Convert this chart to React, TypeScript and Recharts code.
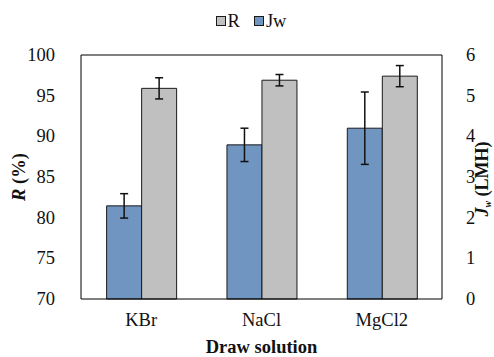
import { BarChart, Bar, XAxis, YAxis, ErrorBar, ReferenceLine } from 'recharts';

const solutions = ['KBr', 'NaCl', 'MgCl2'];
const jwValues = [2.29, 3.79, 4.2];
const jwErrors = [0.3, 0.41, 0.89];
const rValues = [95.9, 96.9, 97.4];
const rErrors = [1.3, 0.7, 1.3];
const leftTicks = [70, 75, 80, 85, 90, 95, 100];
const rightTicks = [0, 1, 2, 3, 4, 5, 6];

const data = solutions.map((name, i) => ({
  name,
  jw: jwValues[i],
  jwErr: jwErrors[i],
  r: rValues[i],
  rErr: rErrors[i],
}));

const FONT = 'Liberation Serif, Times New Roman, serif';
const BLUE = '#7095c1';
const GRAY = '#c0c0c0';
const EDGE = '#1a1a1a';
const TICK_SIZE = 18.5;

// tick renderers so the serif face is applied for sure
const XTick = ({ x, y, payload }: any) => (
  <text x={x} y={y + 19} textAnchor="middle" fontFamily={FONT} fontSize={TICK_SIZE} fill="#111">
    {payload.value}
  </text>
);
const LeftTick = ({ x, y, payload }: any) => (
  <text x={x - 18} y={y + 6} textAnchor="end" fontFamily={FONT} fontSize={TICK_SIZE} fill="#111">
    {payload.value}
  </text>
);
const RightTick = ({ x, y, payload }: any) => (
  <text x={x + 16} y={y + 6} textAnchor="start" fontFamily={FONT} fontSize={TICK_SIZE} fill="#111">
    {payload.value}
  </text>
);

const LeftLabel = () => (
  <text
    transform="translate(25,177) rotate(-90)"
    textAnchor="middle"
    fontFamily={FONT}
    fontSize={18.5}
    fontWeight="bold"
    fill="#111"
  >
    <tspan fontStyle="italic">R</tspan>
    <tspan> (%)</tspan>
  </text>
);

const RightLabel = () => (
  <text
    transform="translate(488,179) rotate(-90)"
    textAnchor="middle"
    fontFamily={FONT}
    fontSize={18}
    fontWeight="bold"
    fill="#111"
  >
    <tspan fontStyle="italic">J</tspan>
    <tspan fontStyle="italic" fontSize={10} dy={2.5}>w</tspan>
    <tspan dy={-2.5}> (LMH)</tspan>
  </text>
);

const legendItems = [
  { label: 'R', color: GRAY },
  { label: 'Jw', color: BLUE },
];

export default function App() {
  return (
    <div
      style={{
        position: 'absolute',
        left: 0,
        top: 0,
        width: 494,
        height: 357,
        background: '#fff',
        fontFamily: FONT,
      }}
    >
      <div
        style={{
          position: 'absolute',
          top: 10,
          left: 0,
          width: 494,
          display: 'flex',
          justifyContent: 'center',
          paddingLeft: 22,
          boxSizing: 'border-box',
          fontFamily: FONT,
          fontSize: 18.5,
          color: '#111',
          lineHeight: '22px',
        }}
      >
        {legendItems.map((it) => (
          <span key={it.label} style={{ display: 'flex', alignItems: 'center', marginRight: 14 }}>
            <span
              style={{
                width: 8,
                height: 8,
                background: it.color,
                border: `1px solid ${EDGE}`,
                marginRight: 2,
                display: 'inline-block',
              }}
            />
            {it.label}
          </span>
        ))}
      </div>
      <BarChart
        width={494}
        height={357}
        data={data}
        margin={{ top: 55, right: 0, left: 0, bottom: 0 }}
        barCategoryGap="21.3%"
        barGap={0}
      >
        <XAxis
          dataKey="name"
          height={58}
          tickLine={false}
          axisLine={{ stroke: '#000' }}
          tick={<XTick />}
          label={{
            value: 'Draw solution',
            position: 'insideBottom',
            offset: 4,
            style: { fontFamily: FONT, fontSize: 18.5, fontWeight: 'bold', fill: '#111' },
          }}
        />
        <YAxis
          yAxisId="left"
          orientation="left"
          width={81}
          domain={[70, 100]}
          ticks={leftTicks}
          tickLine={false}
          axisLine={{ stroke: '#000' }}
          tick={<LeftTick />}
          label={<LeftLabel />}
        />
        <YAxis
          yAxisId="right"
          orientation="right"
          width={52}
          domain={[0, 6]}
          ticks={rightTicks}
          tickLine={false}
          axisLine={{ stroke: '#000' }}
          tick={<RightTick />}
          label={<RightLabel />}
        />
        <ReferenceLine yAxisId="left" y={100} stroke="#000" />
        <Bar dataKey="jw" yAxisId="right" fill={BLUE} stroke={EDGE} strokeWidth={1} isAnimationActive={false}>
          <ErrorBar dataKey="jwErr" width={4} stroke="#111" strokeWidth={1.5} />
        </Bar>
        <Bar dataKey="r" yAxisId="left" fill={GRAY} stroke={EDGE} strokeWidth={1} isAnimationActive={false}>
          <ErrorBar dataKey="rErr" width={4} stroke="#111" strokeWidth={1.5} />
        </Bar>
      </BarChart>
    </div>
  );
}
